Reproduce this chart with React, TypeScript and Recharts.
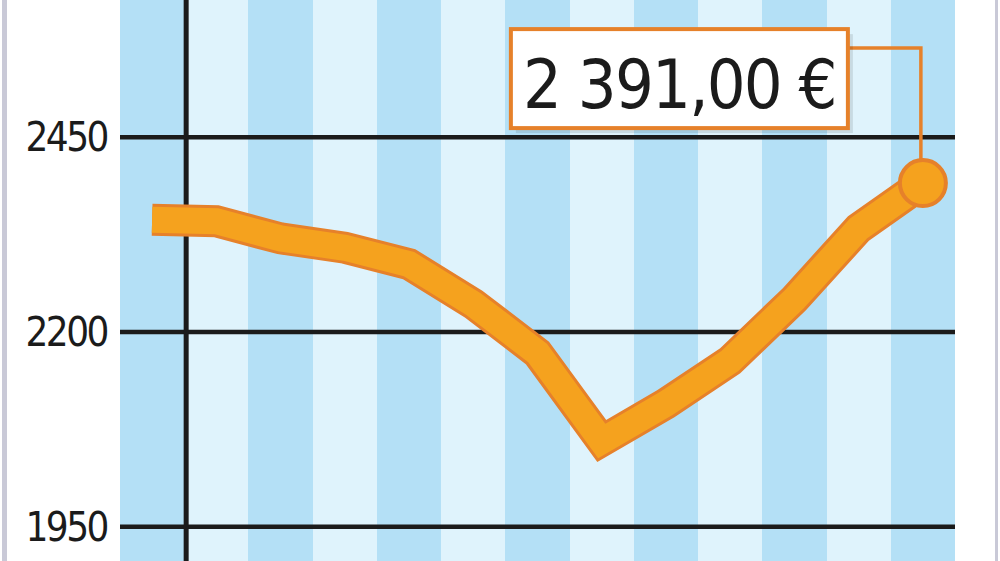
import React from "react";
import {
  CartesianGrid,
  Line,
  LineChart,
  ReferenceLine,
  XAxis,
  YAxis,
} from "recharts";

// monthly price points, oldest first (last one is the labelled value)
const months = [
  "M1", "M2", "M3", "M4", "M5", "M6", "M7",
  "M8", "M9", "M10", "M11", "M12", "M13",
];
const prices = [
  2344, 2342, 2320, 2308, 2287, 2236, 2173, 2060, 2108, 2163, 2242, 2333, 2391,
];
const yTicks = [1950, 2200, 2450];

const chartData = months.map((m, i) => ({ idx: i, name: m, price: prices[i] }));
// stripe borders sit halfway between two months
const stripeTicks = [...months.map((_, i) => i - 0.5), months.length - 0.5];

const FONT = "'Liberation Sans Narrow', 'DejaVu Sans Condensed', 'Roboto', sans-serif";
const ORANGE = "#f5a21e";
const ORANGE_DARK = "#e6812a";
const INK = "#1b1b1b";

const formatEuro = (v: number) =>
  `${Math.floor(v / 1000)} ${String(v % 1000).padStart(3, "0")},00 €`;

const LastDot = (props: any) => {
  const { cx, cy, index, value } = props;
  if (index !== prices.length - 1) return <g key={`d${index}`} />;
  const boxX = cx - 412;
  const boxY = cy - 154;
  const boxW = 337;
  const boxH = 99;
  return (
    <g key={`d${index}`}>
      <polyline
        points={`${cx - 2},${cy - 22} ${cx - 2},${cy - 135} ${boxX + boxW},${cy - 135}`}
        fill="none"
        stroke={ORANGE_DARK}
        strokeWidth={3.5}
      />
      <rect x={boxX + 5} y={boxY + 5} width={boxW} height={boxH} fill="rgba(0,0,0,0.10)" />
      <rect
        x={boxX}
        y={boxY}
        width={boxW}
        height={boxH}
        fill="#ffffff"
        stroke={ORANGE_DARK}
        strokeWidth={4}
      />
      <text
        x={boxX + boxW / 2}
        y={boxY + 79}
        textAnchor="middle"
        fontFamily={FONT}
        fontSize={68}
        letterSpacing={-1.8}
        fill={INK}
      >
        {formatEuro(value)}
      </text>
      <circle cx={cx} cy={cy} r={23} fill={ORANGE} stroke={ORANGE_DARK} strokeWidth={4} />
    </g>
  );
};

export default function App() {
  return (
    <div
      style={{
        position: "absolute",
        left: 0,
        top: 0,
        width: 1000,
        height: 561,
        background: "#ffffff",
        overflow: "hidden",
      }}
    >
      <div style={{ position: "absolute", left: 2, top: 0, width: 5, height: 561, background: "#c9c9d7" }} />
      <div style={{ position: "absolute", left: 995, top: 0, width: 3, height: 561, background: "#c9c9d7" }} />
      <LineChart
        width={1000}
        height={561}
        data={chartData}
        margin={{ top: 0, right: 45, bottom: 0, left: 0 }}
        style={{ position: "absolute", left: 0, top: 0 }}
      >
        <CartesianGrid
          horizontal={false}
          vertical={true}
          stroke="none"
          verticalFill={["#b4e0f6", "#dff3fc"]}
        />
        <XAxis
          dataKey="idx"
          type="number"
          domain={[-0.5, months.length - 0.5]}
          ticks={stripeTicks}
          hide
        />
        <YAxis
          width={120}
          domain={[1906, 2626]}
          ticks={yTicks}
          axisLine={false}
          tickLine={false}
          tickSize={0}
          tickMargin={13}
          tick={{ fontSize: 40, fontFamily: FONT, fill: INK, letterSpacing: -2.5 }}
          allowDataOverflow
        />
        {yTicks.map((t) => (
          <ReferenceLine key={t} y={t} stroke={INK} strokeWidth={4.5} />
        ))}
        <ReferenceLine x={0.53} stroke={INK} strokeWidth={5} />
        <Line
          type="linear"
          dataKey="price"
          stroke={ORANGE_DARK}
          strokeWidth={32}
          strokeLinejoin="miter"
          dot={false}
          activeDot={false}
          isAnimationActive={false}
        />
        <Line
          type="linear"
          dataKey="price"
          stroke={ORANGE}
          strokeWidth={26}
          strokeLinejoin="miter"
          dot={LastDot}
          activeDot={false}
          isAnimationActive={false}
        />
      </LineChart>
    </div>
  );
}
